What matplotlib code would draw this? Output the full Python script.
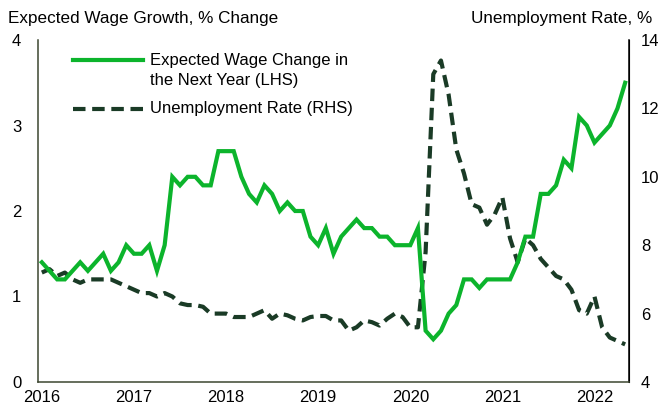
import matplotlib
matplotlib.use("Agg")
import matplotlib.pyplot as plt
import numpy as np

plt.rcParams["font.family"] = ["Liberation Sans", "DejaVu Sans"]

# Monthly observations, Jan 2016 - May 2022
wage_expect = [
    1.4, 1.3, 1.2, 1.2, 1.3, 1.4, 1.3, 1.4, 1.5, 1.3, 1.4, 1.6,   # 2016
    1.5, 1.5, 1.6, 1.3, 1.6, 2.4, 2.3, 2.4, 2.4, 2.3, 2.3, 2.7,   # 2017
    2.7, 2.7, 2.4, 2.2, 2.1, 2.3, 2.2, 2.0, 2.1, 2.0, 2.0, 1.7,   # 2018
    1.6, 1.8, 1.5, 1.7, 1.8, 1.9, 1.8, 1.8, 1.7, 1.7, 1.6, 1.6,   # 2019
    1.6, 1.8, 0.6, 0.5, 0.6, 0.8, 0.9, 1.2, 1.2, 1.1, 1.2, 1.2,   # 2020
    1.2, 1.2, 1.4, 1.7, 1.7, 2.2, 2.2, 2.3, 2.6, 2.5, 3.1, 3.0,   # 2021
    2.8, 2.9, 3.0, 3.2, 3.5,                                      # 2022
]
unemployment = [
    7.2, 7.3, 7.1, 7.2, 7.0, 6.9, 7.0, 7.0, 7.0, 7.0, 6.9, 6.8,   # 2016
    6.7, 6.6, 6.6, 6.5, 6.6, 6.5, 6.3, 6.25, 6.25, 6.2, 6.0, 6.0,  # 2017
    6.0, 5.9, 5.9, 5.9, 6.0, 6.1, 5.85, 6.0, 5.95, 5.85, 5.8, 5.9,  # 2018
    5.93, 5.93, 5.8, 5.8, 5.5, 5.6, 5.8, 5.75, 5.65, 5.85, 6.0, 5.9,  # 2019
    5.6, 5.6, 7.8, 13.0, 13.4, 12.4, 10.8, 10.1, 9.2, 9.1, 8.6, 8.9,  # 2020
    9.4, 8.2, 7.5, 8.2, 8.0, 7.6, 7.35, 7.1, 7.0, 6.7, 6.1, 6.0,   # 2021
    6.5, 5.6, 5.3, 5.2, 5.1,                                      # 2022
]
year_labels = ["2016", "2017", "2018", "2019", "2020", "2021", "2022"]

left_ticks = [0, 1, 2, 3, 4]
right_ticks = [4, 6, 8, 10, 12, 14]

GREEN = "#0cb42c"
DARK = "#1a3b26"
SPINE = "#3c4630"

W, H = 666, 409
fig = plt.figure(figsize=(W / 100, H / 100), dpi=100)
ax = fig.add_axes([38 / W, 1 - 382 / H, 591 / W, 342 / H])
ax2 = ax.twinx()

months = np.arange(len(wage_expect))
ax.plot(months, wage_expect, color=GREEN, lw=3.0, solid_joinstyle="miter", zorder=3)
ax2.plot(np.arange(len(unemployment)), unemployment, color=DARK, lw=3.0,
         dashes=(3.0, 1.6), zorder=2)

ax.set_xlim(-0.5, len(wage_expect) - 0.5)
ax.set_ylim(0, 4)
ax2.set_ylim(4, 14)

ax.set_xticks(np.arange(0, 12 * len(year_labels), 12))
ax.set_xticklabels(year_labels)
ax.set_yticks(left_ticks)
ax2.set_yticks(right_ticks)

ax.tick_params(axis="x", length=0, pad=6, labelsize=12)
ax.tick_params(axis="y", length=0, pad=12, labelsize=12)
ax2.tick_params(axis="y", length=0, pad=8.5, labelsize=12)

for a in (ax, ax2):
    a.spines["top"].set_visible(False)
ax.spines["left"].set_color(SPINE)
ax.spines["bottom"].set_color(SPINE)
ax.spines["left"].set_linewidth(1.1)
ax.spines["bottom"].set_linewidth(1.1)
ax2.spines["left"].set_visible(False)
ax2.spines["bottom"].set_visible(False)
ax2.spines["right"].set_color("black")
ax2.spines["right"].set_linewidth(1.1)

ax.set_zorder(ax2.get_zorder() + 1)
ax.patch.set_visible(False)

# Axis headings
fig.text(8 / W, 1 - 18 / H, "Expected Wage Growth, % Change", fontsize=12.3,
         ha="left", va="center")
fig.text(652 / W, 1 - 18 / H, "Unemployment Rate, %", fontsize=12.3,
         ha="right", va="center")

# Legend
def px_to_ax(x, y):
    return (x - 38) / 591, (382 - y) / 342

x0, y0 = px_to_ax(73, 60)
x1, _ = px_to_ax(143, 60)
ax.plot([x0, x1], [y0, y0], transform=ax.transAxes, color=GREEN, lw=3.0,
        clip_on=False, zorder=5)
tx, ty = px_to_ax(150, 60)
ax.text(tx, ty, "Expected Wage Change in", transform=ax.transAxes,
        fontsize=12, ha="left", va="center")
tx, ty = px_to_ax(150, 80)
ax.text(tx, ty, "the Next Year (LHS)", transform=ax.transAxes,
        fontsize=12, ha="left", va="center")

x0, y0 = px_to_ax(73, 109)
ax.plot([x0, x1], [y0, y0], transform=ax.transAxes, color=DARK, lw=3.0,
        dashes=(3.0, 1.6), clip_on=False, zorder=5)
tx, ty = px_to_ax(150, 109)
ax.text(tx, ty, "Unemployment Rate (RHS)", transform=ax.transAxes,
        fontsize=12, ha="left", va="center")

fig.savefig("out.png", dpi=100)
